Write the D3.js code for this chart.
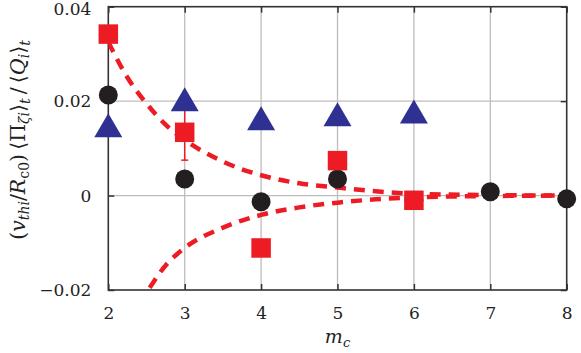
<!DOCTYPE html>
<html><head><meta charset="utf-8">
<script src="https://cdn.jsdelivr.net/npm/d3@7"></script>
<style>body{margin:0;background:#fff}svg{display:block}</style>
</head><body>
<svg id="c" width="581" height="353"></svg>
<script>
const xTicks = [2,3,4,5,6,7,8];
const yTicks = [-0.02, 0, 0.02, 0.04];
const yTickLabels = ["\u22120.02","0","0.02","0.04"];

const squareX = [2,3,4,5,6];
const squareY = [0.0342,0.0134,-0.0111,0.0074,-0.0010];
const errX = [3];
const errLo = [0.0075];
const errHi = [0.0193];

const circleX = [2,3,4,5,6,7,8];
const circleY = [0.0213,0.0035,-0.0013,0.0035,-0.0010,0.0008,-0.0007];

const triX = [2,3,4,5,6];
const triY = [0.0149,0.0204,0.0164,0.0172,0.0178];

const fitX = [2,2.25,2.5,2.75,3,3.5,4,4.5,5,5.5,6,7,8];
const fitUpper = [0.0325,0.0250,0.0195,0.0150,0.0118,0.0072,0.0043,0.0026,0.0017,0.0009,0.0004,0.0001,0];
const fitLower = [-0.0330,-0.0262,-0.0205,-0.0148,-0.0111,-0.0068,-0.0041,-0.0025,-0.0015,-0.0008,-0.0004,-0.0001,0];

const W=581,H=353, L=108.3, R=566.7, T=6.7, B=290;
const x = d3.scaleLinear().domain([2,8]).range([L,R]);
const y = d3.scaleLinear().domain([-0.02,0.04]).range([B,T]);
const svg = d3.select("#c");
const RED="#ed1c24", BLUE="#2e3192", BLACK="#231f20";

svg.append("defs").append("clipPath").attr("id","pc").append("rect")
  .attr("x",L).attr("y",T).attr("width",R-L).attr("height",B-T);

// grid
const g = svg.append("g");
g.selectAll(".gv").data(xTicks.slice(1,-1)).join("line")
  .attr("x1",d=>x(d)).attr("x2",d=>x(d)).attr("y1",T).attr("y2",B)
  .attr("stroke","#bdbdbd").attr("stroke-width",1.3);
g.selectAll(".gh").data(yTicks.slice(1,-1)).join("line")
  .attr("x1",L).attr("x2",R).attr("y1",d=>y(d)).attr("y2",d=>y(d))
  .attr("stroke","#bdbdbd").attr("stroke-width",1.3);

// axes via d3
const fontF = "DejaVu Serif";
const FS = 17;
const xAxis = svg.append("g").attr("transform",`translate(0,${B})`)
  .call(d3.axisBottom(x).tickValues(xTicks).tickFormat(d3.format("d")).tickSize(-6).tickPadding(17));
const xAxisTop = svg.append("g").attr("transform",`translate(0,${T})`)
  .call(d3.axisTop(x).tickValues(xTicks).tickFormat("").tickSize(-6));
const yAxis = svg.append("g").attr("transform",`translate(${L},0)`)
  .call(d3.axisLeft(y).tickValues(yTicks).tickFormat((d,i)=>yTickLabels[i]).tickSize(-6).tickPadding(17));
const yAxisR = svg.append("g").attr("transform",`translate(${R},0)`)
  .call(d3.axisRight(y).tickValues(yTicks).tickFormat("").tickSize(-6));
[xAxis,xAxisTop,yAxis,yAxisR].forEach(a=>{
  a.attr("font-family",fontF).attr("font-size",FS);
  a.select(".domain").remove();
  a.selectAll(".tick line").attr("stroke","#333").attr("stroke-width",1.5);
  a.selectAll("text").attr("font-family",fontF).attr("font-size",FS).attr("fill","#222");
});
xAxis.selectAll("text").attr("dy","0.71em");
yAxis.selectAll("text").filter((d)=>d===0.04).attr("dy","0.45em");

// frame
svg.append("rect").attr("x",L).attr("y",T).attr("width",R-L).attr("height",B-T)
  .attr("fill","none").attr("stroke","#333").attr("stroke-width",1.6);

const plot = svg.append("g").attr("clip-path","url(#pc)");
const plotNC = svg.append("g");

// circles
plotNC.selectAll(".ci").data(circleX.map((d,i)=>[d,circleY[i]])).join("circle")
  .attr("cx",d=>x(d[0])).attr("cy",d=>y(d[1])).attr("r",9.5).attr("fill",BLACK);

// error bar
errX.forEach((ex,i)=>{
  plotNC.append("line").attr("x1",x(ex)).attr("x2",x(ex)).attr("y1",y(errLo[i])).attr("y2",y(errHi[i]))
    .attr("stroke",RED).attr("stroke-width",1.5);
  [errLo[i],errHi[i]].forEach(v=>plotNC.append("line").attr("x1",x(ex)-3.5).attr("x2",x(ex)+3.5)
    .attr("y1",y(v)).attr("y2",y(v)).attr("stroke",RED).attr("stroke-width",1.5));
});

// squares
const s=19.5;
plotNC.selectAll(".sq").data(squareX.map((d,i)=>[d,squareY[i]])).join("rect")
  .attr("x",d=>x(d[0])-s/2).attr("y",d=>y(d[1])-s/2).attr("width",s).attr("height",s).attr("fill",RED);

// triangles
const tw=28, th=24;
plotNC.selectAll(".tr").data(triX.map((d,i)=>[d,triY[i]])).join("path")
  .attr("d",d=>{const cx=x(d[0]), cy=y(d[1]);
    return `M${cx},${cy-th/2}L${cx+tw/2},${cy+th/2}L${cx-tw/2},${cy+th/2}Z`;})
  .attr("fill",BLUE);

// fit curves
const line = d3.line().x(d=>x(d[0])).y(d=>y(d[1])).curve(d3.curveMonotoneX);
[fitUpper,fitLower].forEach(arr=>{
  plot.append("path").attr("d",line(fitX.map((d,i)=>[d,arr[i]])))
    .attr("fill","none").attr("stroke",RED).attr("stroke-width",4.5)
    .attr("stroke-dasharray","11,8");
});

// x label
const xl = svg.append("text").attr("x",x(5)).attr("y",343).attr("text-anchor","middle")
  .attr("font-family",fontF).attr("font-size",19).attr("fill","#222");
xl.append("tspan").attr("font-style","italic").text("m");
xl.append("tspan").attr("font-style","italic").attr("font-size",13).attr("dy",4).text("c");

// y label
const yl = svg.append("text").attr("transform",`translate(25,${140}) rotate(-90)`)
  .attr("text-anchor","middle").attr("font-family",fontF).attr("font-size",20).attr("fill","#222");
const BF=20.5, SF=14;
const parts = [
  ["(",0,false,BF],["v",0,true,BF],["thi",4,true,SF],["/",-4,false,BF],["R",0,true,BF],["c0",4,false,SF],[")",-4,false,BF],
  ["\u2009\u27E8\u03A0",0,false,BF],["\u03B6i",4,true,SF],["\u27E9",-4,false,BF],["t",5,true,SF],
  ["\u2009/\u2009\u27E8",-5,false,BF],["Q",0,true,BF],["i",4,true,SF],["\u27E9",-4,false,BF],["t",5,true,SF]
];
parts.forEach(p=>yl.append("tspan").attr("dy",p[1]).attr("font-style",p[2]?"italic":"normal")
  .attr("font-size",p[3]).text(p[0]));
</script>
</body></html>
